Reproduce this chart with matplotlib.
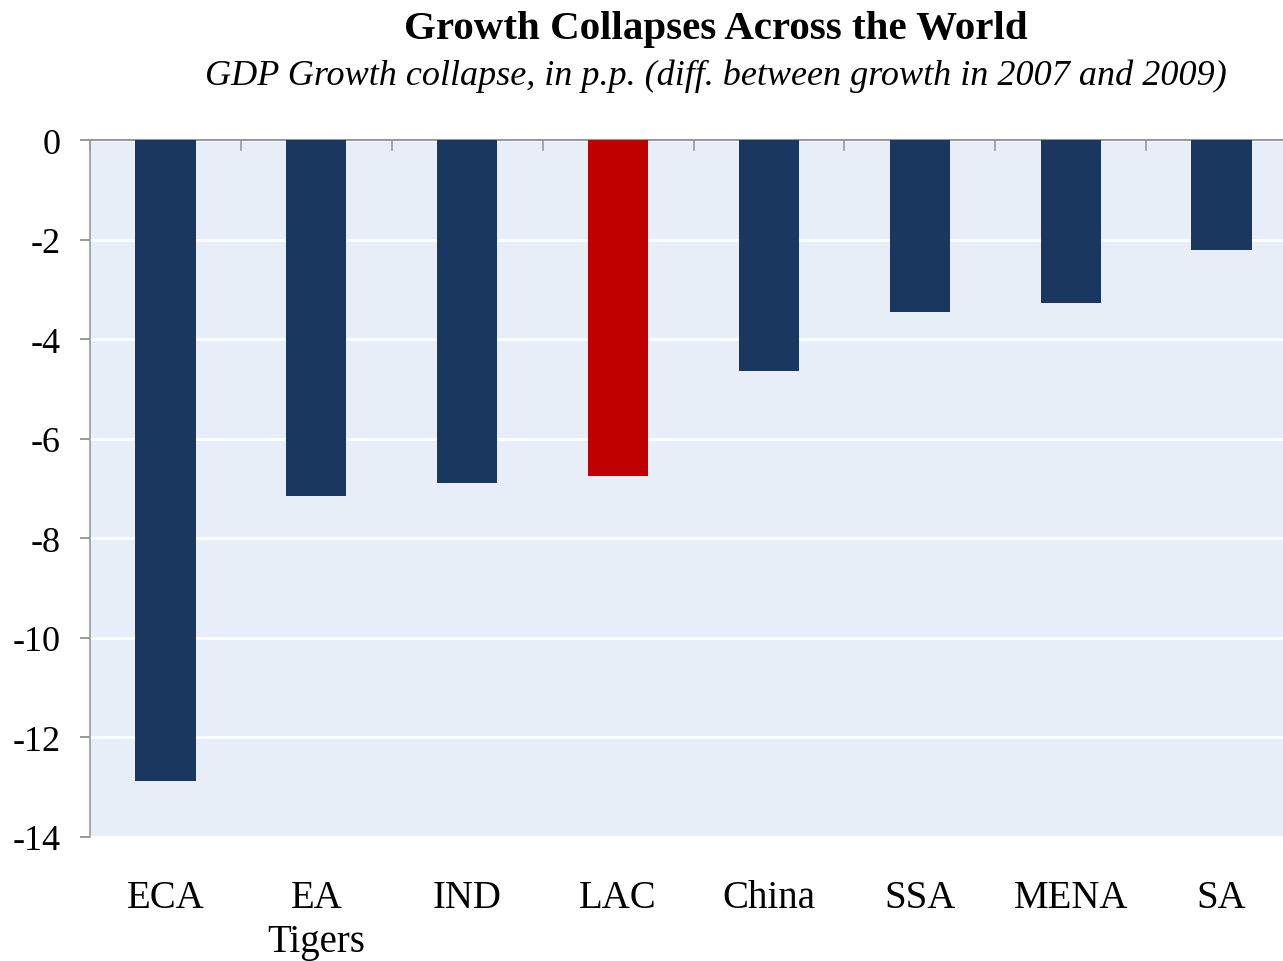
import matplotlib
matplotlib.use("Agg")
import matplotlib.pyplot as plt
import numpy as np

categories = ["ECA", "EA\nTigers", "IND", "LAC", "China", "SSA", "MENA", "SA"]
values = [-12.87, -7.15, -6.89, -6.75, -4.64, -3.45, -3.27, -2.21]
highlight = "LAC"
yticks = [0, -2, -4, -6, -8, -10, -12, -14]

plt.rcParams['font.family'] = ['Liberation Serif', 'DejaVu Serif']

fig = plt.figure(figsize=(12.83, 9.62), dpi=100)
ax = fig.add_axes([90/1283, 1-838/962, (1297-90)/1283, (838-141)/962])
ax.set_facecolor('#E7EEF7')

x = np.arange(len(categories))
colors = ['#C00000' if c == highlight else '#1A375F' for c in categories]
ax.bar(x, values, width=0.4, color=colors, zorder=3)

ax.set_xlim(-0.5, len(categories) - 0.5)
ax.set_ylim(-14, 0)
ax.set_yticks(yticks)
ax.set_yticklabels([str(t) for t in yticks], fontsize=26)
ax.yaxis.grid(True, color='white', linewidth=2, zorder=1)
ax.set_axisbelow(True)

ax.set_xticks(x)
ax.set_xticklabels(categories, fontsize=28, linespacing=1.25)
ax.xaxis.set_ticks_position('bottom')
ax.tick_params(axis='x', length=0, pad=30)
ax.tick_params(axis='y', length=7, color='#888888', width=1.2, pad=14)

# boundary ticks along the top (zero line)
for b in np.arange(-0.5, len(categories), 1.0):
    ax.plot([b, b], [0, -0.2], color='#999999', lw=1.2, zorder=4, clip_on=False)

for s in ['right', 'bottom']:
    ax.spines[s].set_visible(False)
ax.spines['left'].set_color('#999999')
ax.spines['left'].set_linewidth(1.2)
ax.spines['top'].set_color('#999999')
ax.spines['top'].set_linewidth(1.5)

fig.text(716/1283, 1-29/962, "Growth Collapses Across the World", ha='center', va='center',
         fontsize=29.5, fontweight='bold')
fig.text(716/1283, 1-76/962, "GDP Growth collapse, in p.p. (diff. between growth in 2007 and 2009)",
         ha='center', va='center', fontsize=26, style='italic')

fig.savefig("out.png", dpi=100)
